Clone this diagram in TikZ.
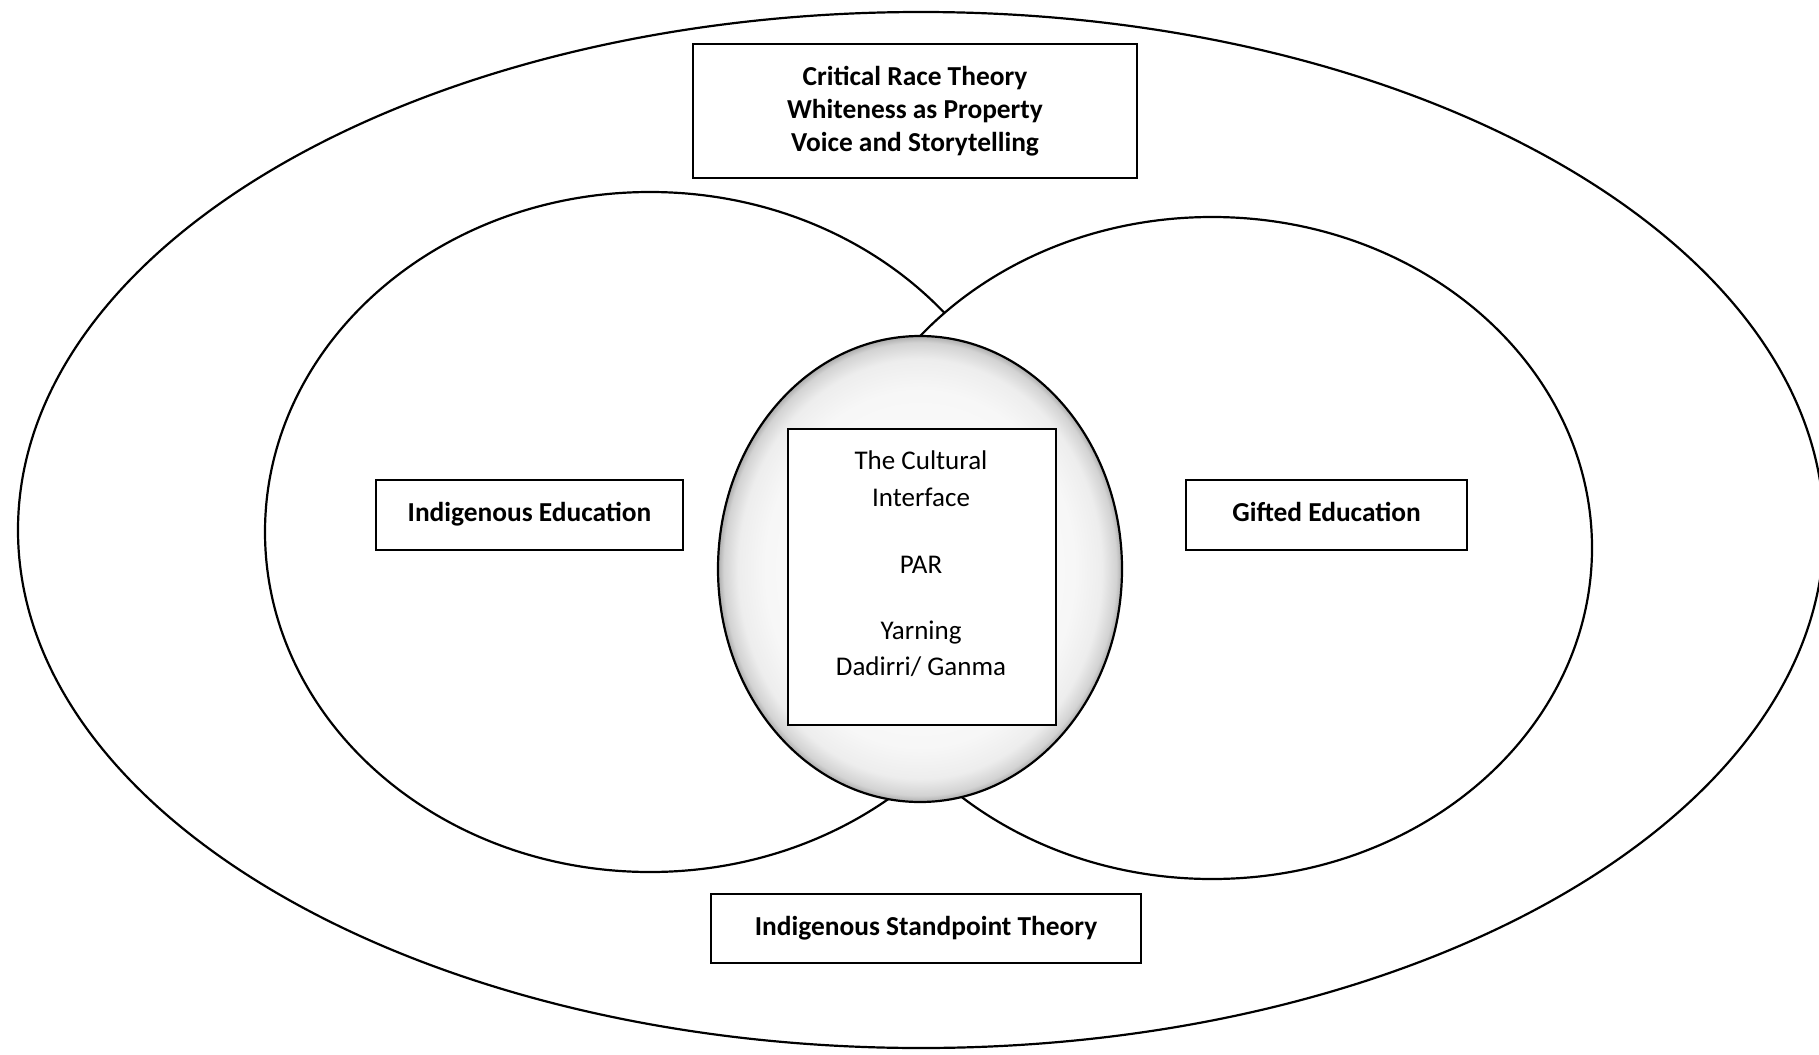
\documentclass[tikz,border=0pt]{standalone}
\usepackage{fontspec}
\setmainfont{Carlito}
\pgfdeclareradialshading{ringshade}{\pgfpoint{0bp}{0bp}}{%
  color(0bp)=(gray!4);
  color(19bp)=(gray!6);
  color(22.5bp)=(gray!14);
  color(24.3bp)=(gray!35);
  color(25bp)=(gray!65);
  color(50bp)=(gray!65)}
\begin{document}
\begin{tikzpicture}[x=1pt,y=-1pt,
  ring/.style={draw=black,line width=2.2pt,fill=white},
  boldbox/.style={draw=black,fill=white,align=center,font=\fontsize{27.4}{33}\selectfont\bfseries,inner sep=0pt},
  plainbox/.style={align=center,font=\fontsize{27}{36.5}\selectfont,inner sep=0pt}]
\useasboundingbox (0,0) rectangle (1819,1054);
% outer ellipse
\draw[ring] (921,530) ellipse [x radius=903, y radius=518];
% left and right circles
\draw[ring] (650,532) ellipse [x radius=385, y radius=340];
\draw[ring] (1212,548) ellipse [x radius=380, y radius=331];
% central circle
\path[shading=ringshade] (920,569) ellipse [x radius=202, y radius=233];
\draw[line width=2.2pt] (920,569) ellipse [x radius=202, y radius=233];
% boxes
\node[boldbox,line width=2pt,minimum width=444pt,minimum height=134pt] (crt) at (915,111)
  {Critical Race Theory\\Whiteness as Property\\Voice and Storytelling};
\node[boldbox,line width=2.6pt,minimum width=307pt,minimum height=70pt,text height=19pt,text depth=6pt] (ie) at (529.5,515)
  {Indigenous Education};
\node[boldbox,line width=2.6pt,minimum width=281pt,minimum height=70pt,text height=19pt,text depth=6pt] (ge) at (1326.5,515)
  {Gifted Education};
\node[boldbox,line width=1.6pt,minimum width=430pt,minimum height=69pt,text height=19pt,text depth=6pt] (ist) at (926,928.5)
  {Indigenous Standpoint Theory};
\node[draw=black,fill=white,line width=1.3pt,minimum width=268pt,minimum height=296pt,inner sep=0pt] (ci) at (922,577) {};
\node[plainbox,anchor=north] (citext) at (921,451)
  {The Cultural\\Interface\\[31pt]PAR\\[29pt]Yarning\\Dadirri/ Ganma};
\end{tikzpicture}
\end{document}
